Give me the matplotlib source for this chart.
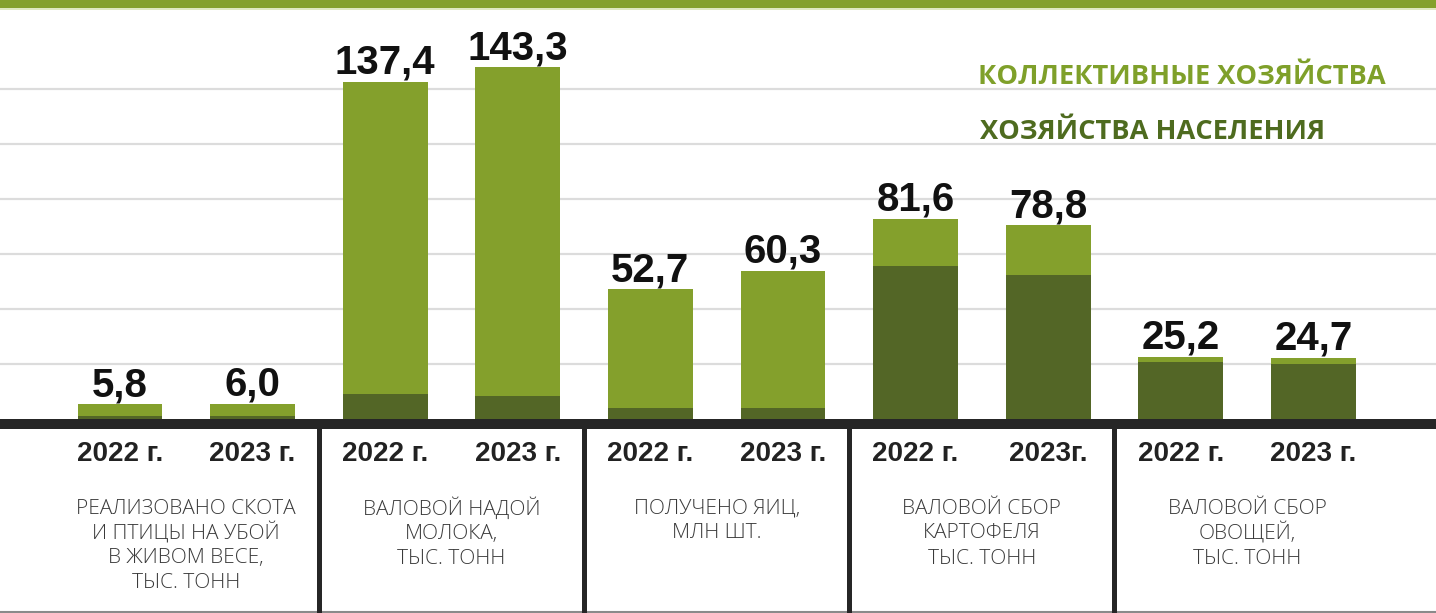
import matplotlib.pyplot as plt
from matplotlib.patches import Rectangle

# === DATA =====================================================================
years = ["2022 г.", "2023 г.", "2022 г.", "2023 г.", "2022 г.", "2023 г.",
         "2022 г.", "2023г.", "2022 г.", "2023 г."]
totals = [5.8, 6.0, 137.4, 143.3, 52.7, 60.3, 81.6, 78.8, 25.2, 24.7]
population = [1.2, 1.2, 10.0, 9.3, 4.3, 4.1, 62.1, 58.6, 23.0, 22.2]
collective = [t - p for t, p in zip(totals, population)]
value_labels = ["5,8", "6,0", "137,4", "143,3", "52,7", "60,3", "81,6", "78,8", "25,2", "24,7"]
groups = [
    "РЕАЛИЗОВАНО СКОТА\nИ ПТИЦЫ НА УБОЙ\nВ ЖИВОМ ВЕСЕ,\nТЫС. ТОНН",
    "ВАЛОВОЙ НАДОЙ\nМОЛОКА,\nТЫС. ТОНН",
    "ПОЛУЧЕНО ЯИЦ,\nМЛН ШТ.",
    "ВАЛОВОЙ СБОР\nКАРТОФЕЛЯ\nТЫС. ТОНН",
    "ВАЛОВОЙ СБОР\nОВОЩЕЙ,\nТЫС. ТОНН",
]
legend_labels = ["КОЛЛЕКТИВНЫЕ ХОЗЯЙСТВА", "ХОЗЯЙСТВА НАСЕЛЕНИЯ"]

# === STYLE ====================================================================
LIGHT = "#84a02c"
DARK = "#536626"
AXIS = "#262626"
PX = 2.45  # pixels per unit

# === PLOT RENDERING ===========================================================
fig = plt.figure(figsize=(14.36, 6.13), dpi=100)
ax = fig.add_axes([0, 0, 1, 1])
ax.set_xlim(-0.905, 9.925)
ax.set_ylim(-(613 - 418.5) / PX, 418.5 / PX)
ax.axis("off")

x = list(range(len(totals)))
u = 1 / PX  # one pixel in data units

# grid
for k in range(1, 7):
    ax.axhline(55 * k * u, color="#dcdcdc", lw=1.6, zorder=0)

ax.bar(x, population, width=0.64, color=DARK, zorder=2)
ax.bar(x, collective, bottom=population, width=0.64, color=LIGHT, zorder=2)

for i in x:
    ax.text(i, totals[i] + 8 * u, value_labels[i], ha="center", va="baseline",
            fontsize=29, fontweight="bold", family="Liberation Sans", color="#111111")
    ax.text(i, -35.5 * u, years[i], ha="center", va="center",
            fontsize=20, fontweight="bold", family="Liberation Sans", color="#222222")

# baseline and separators
ax.axhspan(-10 * u, 0, color=AXIS, zorder=3, lw=0)
for s in [1.5, 3.5, 5.5, 7.5]:
    ax.plot([s, s], [-10 * u, -200 * u], color=AXIS, lw=3.6, zorder=3)
ax.axhline(-193 * u, color="#8a8a8a", lw=1.5)

# group descriptions
for g, txt in enumerate(groups):
    cx = 2 * g + 0.5
    for j, line in enumerate(txt.split("\n")):
        ax.text(cx, (-90 - 25 * j) * u, line, ha="center", va="center",
                fontsize=15, family="Open Sans", fontweight="light", color="#3a3a3a")

# legend
fig.text(978 / 1436, 1 - 77 / 613, legend_labels[0], ha="left", va="center",
         fontsize=19.6, fontweight="bold", family="Open Sans", color="#7fa02a")
fig.text(980 / 1436, 1 - 132 / 613, legend_labels[1], ha="left", va="center",
         fontsize=19.6, fontweight="bold", family="Open Sans", color="#4e6b1f")

# top band
fig.add_artist(Rectangle((0, 1 - 8 / 613), 1, 8 / 613, transform=fig.transFigure,
                         color=LIGHT, lw=0))
fig.add_artist(Rectangle((0, 1 - 10 / 613), 1, 2 / 613, transform=fig.transFigure,
                         color="#dfe8c0", lw=0))

plt.savefig("out.png", dpi=100)
